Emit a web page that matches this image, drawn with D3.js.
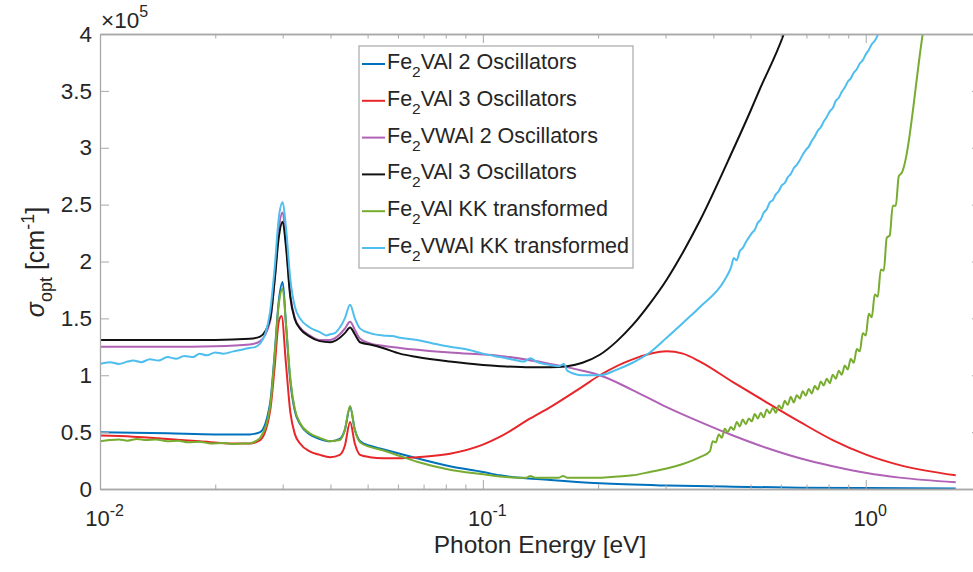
<!DOCTYPE html>
<html>
<head>
<meta charset="utf-8">
<script src="https://cdn.jsdelivr.net/npm/d3@7"></script>
<style>
  body { margin: 0; background: #fff; }
  text { font-family: "Liberation Sans", Arial, sans-serif; fill: #262626; }
</style>
</head>
<body>
<div id="chart"></div>
<script>
// values: [photon energy (eV), sigma (x1e5 cm^-1)]
var blueData = [
  [0.0100,0.50],[0.0150,0.49],[0.0200,0.48],[0.0246,0.48],[0.0262,0.50],[0.0278,0.75],
  [0.0286,1.20],[0.0293,1.65],[0.0300,1.82],[0.0306,1.45],[0.0314,0.95],[0.0323,0.68],
  [0.0333,0.57],[0.0353,0.48],[0.0375,0.44],[0.0399,0.42],[0.0423,0.44],[0.0436,0.52],
  [0.0450,0.72],[0.0463,0.52],[0.0478,0.42],[0.0507,0.38],[0.0548,0.35],[0.0607,0.31],
  [0.0673,0.27],[0.0820,0.20],[0.100,0.15],[0.111,0.12],[0.150,0.08],[0.202,0.05],
  [0.302,0.03],[0.450,0.02],[0.673,0.012],[1.006,0.008],[1.718,0.005]
];

var redData = [
  [0.0100,0.47],[0.0122,0.46],[0.0150,0.44],[0.0182,0.42],[0.0223,0.40],[0.0246,0.40],
  [0.0262,0.43],[0.0278,0.68],[0.0286,1.08],[0.0293,1.47],[0.0298,1.52],[0.0306,1.10],
  [0.0314,0.68],[0.0323,0.48],[0.0333,0.40],[0.0353,0.33],[0.0375,0.30],[0.0399,0.28],
  [0.0423,0.30],[0.0436,0.38],[0.0450,0.59],[0.0463,0.40],[0.0478,0.30],[0.0507,0.28],
  [0.0548,0.27],[0.0607,0.27],[0.0673,0.28],[0.0820,0.31],[0.100,0.39],[0.111,0.46],
  [0.133,0.62],[0.150,0.72],[0.182,0.90],[0.202,1.00],[0.246,1.14],[0.302,1.21],
  [0.333,1.19],[0.369,1.12],[0.450,0.94],[0.552,0.76],[0.673,0.59],[0.820,0.43],
  [1.006,0.30],[1.227,0.21],[1.718,0.12]
];

var pinkData = [
  [0.0100,1.25],[0.0150,1.25],[0.0200,1.255],[0.0246,1.27],[0.0262,1.30],[0.0278,1.47],
  [0.0286,1.85],[0.0293,2.28],[0.0300,2.43],[0.0306,2.18],[0.0314,1.71],[0.0323,1.50],
  [0.0333,1.42],[0.0353,1.35],[0.0375,1.31],[0.0399,1.31],[0.0423,1.36],[0.0436,1.41],
  [0.0450,1.47],[0.0463,1.40],[0.0478,1.32],[0.0507,1.28],[0.0548,1.26],[0.0607,1.24],
  [0.0820,1.20],[0.111,1.17],[0.150,1.10],[0.182,1.04],[0.202,1.00],[0.246,0.87],
  [0.302,0.72],[0.369,0.59],[0.450,0.47],[0.552,0.36],[0.673,0.27],[0.820,0.20],
  [1.006,0.14],[1.227,0.10],[1.718,0.06]
];

var blackData = [
  [0.0100,1.31],[0.0150,1.31],[0.0200,1.31],[0.0246,1.32],[0.0262,1.34],[0.0278,1.49],
  [0.0286,1.84],[0.0293,2.21],[0.0300,2.35],[0.0306,2.13],[0.0314,1.69],[0.0323,1.49],
  [0.0333,1.41],[0.0353,1.34],[0.0375,1.30],[0.0399,1.29],[0.0423,1.33],[0.0436,1.37],
  [0.0450,1.42],[0.0463,1.36],[0.0478,1.29],[0.0507,1.27],[0.0548,1.24],[0.0607,1.19],
  [0.0673,1.16],[0.0820,1.12],[0.100,1.09],[0.111,1.08],[0.133,1.07],[0.150,1.07],
  [0.166,1.08],[0.182,1.11],[0.202,1.18],[0.224,1.30],[0.246,1.44],[0.273,1.63],
  [0.302,1.84],[0.333,2.08],[0.369,2.36],[0.450,2.98],[0.498,3.31],[0.528,3.51],
  [0.611,4.00],[0.673,4.45]
];

var greenData = [
  [0.0100,0.42],[0.0106,0.43],[0.0112,0.435],[0.0118,0.425],[0.0125,0.44],[0.0132,0.43],
  [0.0140,0.435],[0.0150,0.42],[0.0160,0.425],[0.0170,0.41],[0.0182,0.415],[0.0195,0.40],
  [0.0210,0.405],[0.0223,0.395],[0.0235,0.40],[0.0246,0.40],[0.0255,0.42],[0.0262,0.45],
  [0.0278,0.72],[0.0286,1.18],[0.0293,1.62],[0.0300,1.76],[0.0306,1.45],[0.0314,0.98],
  [0.0323,0.70],[0.0333,0.58],[0.0353,0.49],[0.0375,0.45],[0.0399,0.42],[0.0423,0.43],
  [0.0436,0.52],[0.0450,0.73],[0.0463,0.52],[0.0478,0.41],[0.0507,0.37],[0.0548,0.34],
  [0.0607,0.29],[0.0673,0.24],[0.0820,0.17],[0.100,0.13],[0.111,0.11],[0.123,0.10],
  [0.130,0.10],[0.133,0.115],[0.137,0.10],[0.150,0.10],[0.158,0.10],[0.162,0.115],
  [0.166,0.10],[0.182,0.10],[0.202,0.10],[0.224,0.11],[0.246,0.12],[0.273,0.15],
  [0.302,0.18],[0.333,0.22],[0.369,0.28],[0.3915,0.33],
  // noisy part of the measurement
  [0.3986,0.42],[0.4058,0.41],[0.4132,0.48],[0.4207,0.45],[0.4284,0.53],[0.4362,0.50],
  [0.4441,0.545],[0.4522,0.52],[0.4605,0.59],[0.4688,0.55],[0.4774,0.61],[0.4861,0.57],
  [0.4949,0.62],[0.5039,0.595],[0.5131,0.66],[0.5224,0.62],[0.5320,0.67],[0.5416,0.63],
  [0.5515,0.70],[0.5615,0.665],[0.5718,0.715],[0.5822,0.67],[0.5928,0.735],[0.6036,0.705],
  [0.6146,0.775],[0.6257,0.74],[0.6371,0.81],[0.6487,0.76],[0.6605,0.825],[0.6726,0.795],
  [0.6848,0.86],[0.6973,0.82],[0.7100,0.88],[0.7229,0.84],[0.7361,0.905],[0.7495,0.875],
  [0.7631,0.945],[0.7770,0.91],[0.7911,0.97],[0.8055,0.93],[0.8202,1.005],[0.8351,0.97],
  [0.8503,1.04],[0.8658,1.005],[0.8815,1.085],[0.8976,1.05],[0.9139,1.145],[0.9305,1.11],
  [0.9475,1.23],[0.9647,1.21],[0.9823,1.37],[1.0001,1.35],[1.0183,1.54],[1.0369,1.51],
  [1.0558,1.71],[1.0750,1.69],[1.0946,1.93],[1.1145,1.92],[1.1348,2.21],[1.1554,2.23],
  [1.1765,2.49],[1.1979,2.49],[1.2197,2.75],[1.2419,2.78],
  [1.4087,4.00],[1.469,4.40]
];

var cyanData = [
  [0.0100,1.10],[0.0106,1.115],[0.0112,1.10],[0.0118,1.12],[0.0122,1.13],[0.0128,1.115],
  [0.0135,1.14],[0.0142,1.13],[0.0150,1.16],[0.0158,1.145],[0.0166,1.17],[0.0175,1.16],
  [0.0182,1.19],[0.0190,1.175],[0.0200,1.20],[0.0210,1.19],[0.0223,1.21],[0.0235,1.225],
  [0.0246,1.24],[0.0255,1.25],[0.0262,1.28],[0.0270,1.36],[0.0278,1.55],[0.0286,1.95],
  [0.0293,2.38],[0.0300,2.52],[0.0306,2.30],[0.0314,1.85],[0.0323,1.60],[0.0333,1.50],
  [0.0353,1.42],[0.0375,1.38],[0.0390,1.35],[0.0399,1.36],[0.0410,1.37],[0.0423,1.42],
  [0.0436,1.50],[0.0450,1.62],[0.0463,1.50],[0.0478,1.41],[0.0507,1.37],[0.0548,1.35],
  [0.0580,1.345],[0.0607,1.33],[0.0673,1.31],[0.0740,1.28],[0.0820,1.25],[0.0900,1.23],
  [0.100,1.19],[0.111,1.16],[0.123,1.13],[0.128,1.12],[0.133,1.15],[0.138,1.12],
  [0.150,1.09],[0.158,1.08],[0.163,1.10],[0.166,1.04],[0.182,1.00],[0.202,1.00],
  [0.224,1.05],[0.246,1.11],[0.273,1.20],[0.302,1.33],[0.333,1.46],[0.369,1.60],
  [0.4284,1.84],[0.4450,1.95],[0.4523,2.03],[0.4600,2.01],[0.4688,2.09],[0.4774,2.12],
  [0.4862,2.17],[0.4949,2.21],[0.5040,2.25],[0.5131,2.28],[0.5224,2.34],[0.5320,2.37],
  [0.5416,2.43],[0.5515,2.46],[0.5615,2.52],[0.5718,2.54],[0.5821,2.59],[0.5928,2.62],
  [0.6035,2.67],[0.6146,2.69],[0.6256,2.74],[0.6371,2.77],[0.6486,2.82],[0.6605,2.85],
  [0.6724,2.89],[0.6848,2.94],[0.6971,2.98],[0.7100,3.01],[0.7227,3.06],[0.7361,3.10],
  [0.7493,3.15],[0.7631,3.18],[0.7767,3.23],[0.7911,3.27],[0.8054,3.32],[0.8202,3.35],
  [0.8349,3.41],[0.8503,3.44],[0.8655,3.49],[0.8815,3.53],[0.8974,3.58],[0.9139,3.61],
  [0.9304,3.66],[0.9475,3.69],[0.9646,3.74],[0.9823,3.77],[1.000,3.82],[1.0183,3.86],
  [1.0368,3.91],[1.0558,3.94],[1.0748,3.99],[1.1143,4.07],[1.16,4.18]
];

var seriesNames = ["VAl 2 Oscillators", "VAl 3 Oscillators", "VWAl 2 Oscillators",
                   "VAl 3 Oscillators", "VAl KK transformed", "VWAl KK transformed"];
var seriesColors = ["#0072BD", "#E8262A", "#B062B6", "#111111", "#77AC30", "#4DBEEE"];
var allSeries = [blueData, redData, pinkData, blackData, greenData, cyanData];

var energyMajor = [0.01, 0.1, 1];
var energyMajorExp = ["-2", "-1", "0"];
var energyMinor = [0.02,0.03,0.04,0.05,0.06,0.07,0.08,0.09,0.2,0.3,0.4,0.5,0.6,0.7,0.8,0.9,2];
var sigmaTicks = [0, 0.5, 1, 1.5, 2, 2.5, 3, 3.5, 4];

// layout (don't call these top/left, window.top is taken!)
var width = 973;
var height = 572;
var plotLeft = 100, plotRight = 981, plotTop = 34, plotBottom = 489;
var axisColor = "#a8a8a8";

var svg = d3.select("#chart")
  .append("svg")
  .attr("width", width)
  .attr("height", height);

var x = d3.scaleLog().domain([0.01, 2]).range([plotLeft, plotRight]);
var y = d3.scaleLinear().domain([0, 4]).range([plotBottom, plotTop]);

svg.append("clipPath").attr("id", "plotclip")
  .append("rect")
  .attr("x", plotLeft).attr("y", plotTop)
  .attr("width", plotRight - plotLeft).attr("height", plotBottom - plotTop);

//curves
var line = d3.line()
  .x(d => x(d[0]))
  .y(d => y(d[1]))
  .curve(d3.curveMonotoneX);

var curves = svg.append("g").attr("clip-path", "url(#plotclip)");
allSeries.forEach((s, i) => {
  curves.append("path")
    .datum(s)
    .attr("fill", "none")
    .attr("stroke", seriesColors[i])
    .attr("stroke-width", 2)
    .attr("stroke-linejoin", "round")
    .attr("d", line);
});

//axes, ticks pointing inward (matlab style)
function styleAxis(g) {
  g.select(".domain").attr("stroke", axisColor).attr("stroke-width", 1.3);
  g.selectAll(".tick line").attr("stroke", axisColor).attr("stroke-width", 1);
}

var xMajor = svg.append("g")
  .attr("transform", "translate(0," + plotBottom + ")")
  .call(d3.axisBottom(x).tickValues(energyMajor).tickSize(-9).tickSizeOuter(0).tickFormat(""))
  .call(styleAxis);

svg.append("g")
  .attr("transform", "translate(0," + plotBottom + ")")
  .call(d3.axisBottom(x).tickValues(energyMinor).tickSize(-4.5).tickSizeOuter(0).tickFormat(""))
  .call(styleAxis);

svg.append("g")
  .attr("transform", "translate(0," + plotTop + ")")
  .call(d3.axisTop(x).tickValues(energyMajor).tickSize(-9).tickSizeOuter(0).tickFormat(""))
  .call(styleAxis);

svg.append("g")
  .attr("transform", "translate(0," + plotTop + ")")
  .call(d3.axisTop(x).tickValues(energyMinor).tickSize(-4.5).tickSizeOuter(0).tickFormat(""))
  .call(styleAxis);

var yAxis = svg.append("g")
  .attr("transform", "translate(" + plotLeft + ",0)")
  .call(d3.axisLeft(y).tickValues(sigmaTicks).tickSize(-9).tickSizeOuter(0).tickPadding(8).tickFormat(d => d))
  .call(styleAxis);

yAxis.selectAll(".tick text")
  .attr("font-size", 22.5)
  .attr("font-family", "Liberation Sans, Arial, sans-serif")
  .attr("fill", "#262626");

svg.append("g")
  .attr("transform", "translate(" + plotRight + ",0)")
  .call(d3.axisRight(y).tickValues(sigmaTicks).tickSize(-9).tickSizeOuter(0).tickFormat(""))
  .call(styleAxis);

// x tick labels 10^n
xMajor.selectAll(".tick").each(function(d, i) {
  var t = d3.select(this).append("text")
    .attr("y", 37)
    .attr("text-anchor", "middle")
    .attr("font-size", 22)
    .attr("x", 4);
  t.append("tspan").text("10");
  t.append("tspan").attr("dy", -10).attr("font-size", 16).text(energyMajorExp[i]);
});

// x10^5 multiplier
var mult = svg.append("text")
  .attr("x", 101)
  .attr("y", 28)
  .attr("font-size", 22.5);
mult.append("tspan").text("\u00d710");
mult.append("tspan").attr("dy", -11).attr("font-size", 16).text("5");

//axis labels
svg.append("text")
  .attr("x", 540)
  .attr("y", 553)
  .attr("text-anchor", "middle")
  .attr("font-size", 24.5)
  .text("Photon Energy [eV]");

var ylab = svg.append("text")
  .attr("transform", "translate(44,262) rotate(-90)")
  .attr("text-anchor", "middle")
  .attr("font-size", 25);
ylab.append("tspan").attr("font-style", "italic").text("\u03c3");
ylab.append("tspan").attr("dy", 8).attr("font-size", 18).text("opt");
ylab.append("tspan").attr("dy", -8).text(" [cm");
ylab.append("tspan").attr("dy", -10).attr("font-size", 18).text("-1");
ylab.append("tspan").attr("dy", 10).text("]");

//legend
var legend = svg.append("g");
legend.append("rect")
  .attr("x", 359).attr("y", 46)
  .attr("width", 274).attr("height", 222)
  .attr("fill", "white")
  .attr("stroke", axisColor)
  .attr("stroke-width", 1.2);

seriesNames.forEach((name, i) => {
  var base = 69 + i * 36.8;
  legend.append("line")
    .attr("x1", 362).attr("x2", 385)
    .attr("y1", base - 5).attr("y2", base - 5)
    .attr("stroke", seriesColors[i])
    .attr("stroke-width", 2);
  var t = legend.append("text")
    .attr("x", 387)
    .attr("y", base)
    .attr("font-size", 21.5);
  t.append("tspan").text("Fe");
  t.append("tspan").attr("dy", 8).attr("font-size", 15.5).text("2");
  t.append("tspan").attr("dy", -8).text(name);
});
</script>
</body>
</html>
